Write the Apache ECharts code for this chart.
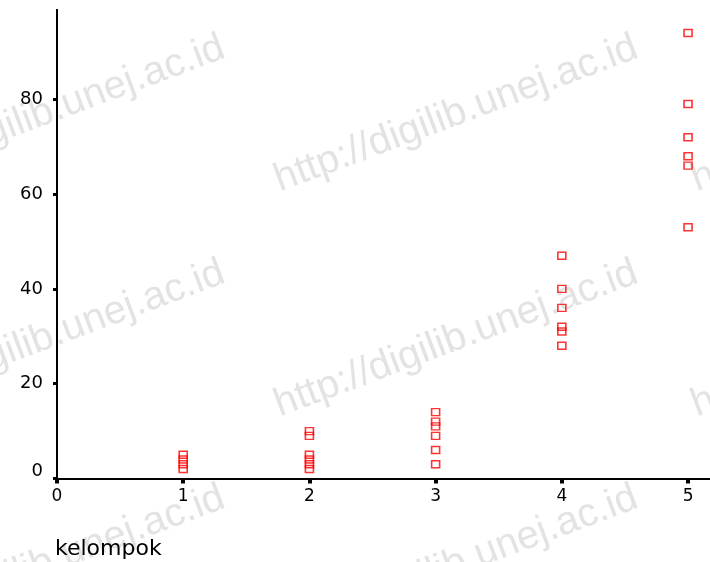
<!DOCTYPE html>
<html>
<head>
<meta charset="utf-8">
<script src="https://cdn.jsdelivr.net/npm/echarts@6/dist/echarts.min.js"></script>
<style>
  html, body { margin: 0; padding: 0; background: #fff; }
  #chart { width: 710px; height: 562px; }
</style>
</head>
<body>
<div id="chart"></div>
<script>
// Group numbers on the horizontal axis
var groups = [1, 2, 3, 4, 5];
// Observed values for each group
var kelompok1 = [5, 4, 3, 2];
var kelompok2 = [10, 9, 5, 4, 3, 2];
var kelompok3 = [14, 12, 11, 9, 6, 3];
var kelompok4 = [47, 40, 36, 32, 31, 28];
var kelompok5 = [94, 79, 72, 68, 66, 53];
var groupValues = [kelompok1, kelompok2, kelompok3, kelompok4, kelompok5];

var axisLabelName = 'kelompok';
var watermarkText = 'http://digilib.unej.ac.id';

// Flatten into [x, y] pairs for the scatter series
var points = [];
groups.forEach(function (g, i) {
  groupValues[i].forEach(function (v) { points.push([g, v]); });
});

var labelFont = '"DejaVu Sans", sans-serif';

// Repeated diagonal watermark
var wmCols = [-130, 283, 700];
var wmRows = [200, 425, 650];
var graphics = [];
wmRows.forEach(function (y) {
  wmCols.forEach(function (x) {
    graphics.push({
      type: 'text',
      x: x, y: y,
      rotation: 20.5 * Math.PI / 180,
      z: 0,
      silent: true,
      style: {
        text: watermarkText,
        fill: '#e3e3e3',
        font: '40px "Liberation Sans", Arial, sans-serif',
        textAlign: 'left',
        textVerticalAlign: 'bottom'
      }
    });
  });
});
// The page's top strip is blank; the topmost tick label is clipped by it
graphics.push({
  type: 'rect',
  z: 100,
  silent: true,
  shape: { x: 0, y: 0, width: 710, height: 9 },
  style: { fill: '#ffffff' }
});

var chart = echarts.init(document.getElementById('chart'), null, { renderer: 'canvas' });
chart.setOption({
  animation: false,
  backgroundColor: '#ffffff',
  graphic: graphics,
  title: {
    text: axisLabelName,
    left: 55,
    top: 538,
    padding: 0,
    textStyle: {
      fontFamily: labelFont,
      fontSize: 22,
      fontWeight: 'normal',
      color: '#000'
    }
  },
  grid: {
    left: 57, right: 0, top: 4.5, bottom: 83.5,
    containLabel: false,
    outerBoundsMode: 'none'
  },
  xAxis: {
    type: 'value',
    min: 0,
    max: 5.174,
    interval: 1,
    axisLine: { show: true, onZero: false, lineStyle: { color: '#000', width: 2 } },
    axisTick: { show: true, length: 5, lineStyle: { color: '#000', width: 4 } },
    axisLabel: {
      margin: 10,
      color: '#000',
      fontSize: 17,
      fontFamily: labelFont,
      showMaxLabel: false
    },
    splitLine: { show: false }
  },
  yAxis: {
    type: 'value',
    min: 0,
    max: 100,
    interval: 20,
    axisLine: { show: true, onZero: false, lineStyle: { color: '#000', width: 2 } },
    axisTick: { show: true, length: 4, lineStyle: { color: '#000', width: 3 } },
    axisLabel: {
      margin: 14,
      color: '#000',
      fontSize: 18,
      fontFamily: labelFont,
      formatter: function (v) { return v === 0 ? '{low|0}' : String(v); },
      rich: {
        low: { fontSize: 18, fontFamily: labelFont, color: '#000', padding: [0, 0, 14, 0] }
      }
    },
    splitLine: { show: false }
  },
  series: [{
    type: 'scatter',
    z: 5,
    data: points,
    symbol: 'rect',
    symbolSize: [8, 7],
    itemStyle: {
      color: 'rgba(0,0,0,0)',
      borderColor: '#ff0000',
      borderWidth: 1.5
    }
  }]
});
</script>
</body>
</html>
